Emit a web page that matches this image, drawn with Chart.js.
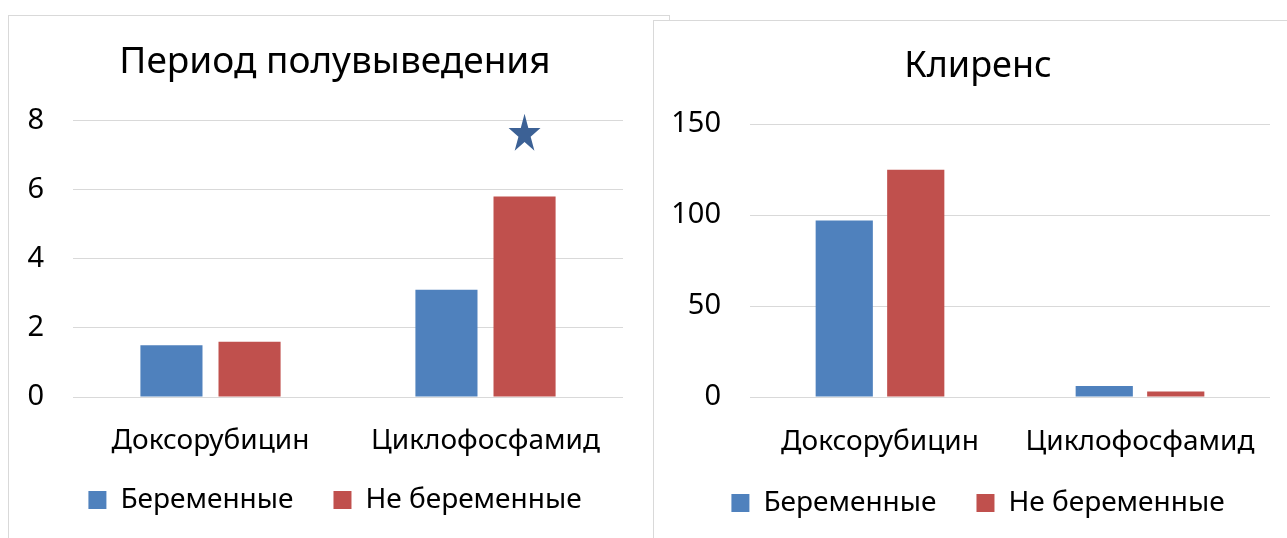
<!DOCTYPE html>
<html>
<head>
<meta charset="utf-8">
<script src="https://cdn.jsdelivr.net/npm/chart.js@4/dist/chart.umd.min.js"></script>
<style>
  body { margin: 0; background: #fff; width: 1287px; height: 538px; overflow: hidden; position: relative; }
  .panel { position: absolute; border: 1px solid #d9d9d9; background: #fff; }
  #panel-halflife { left: 8px; top: 15px; width: 660px; height: 560px; }
  #panel-clearance { left: 653px; top: 20px; width: 660px; height: 560px; z-index: 2; }
  canvas { display: block; }
</style>
</head>
<body>
<div class="panel" id="panel-halflife"><canvas id="halflife-chart" width="637" height="522"></canvas></div>
<div class="panel" id="panel-clearance"><canvas id="clearance-chart" width="640" height="517"></canvas></div>
<script>
var categories = ['Доксорубицин', 'Циклофосфамид'];
var seriesLabels = ['Беременные', 'Не беременные'];
var seriesColors = ['#4f81bd', '#c0504d'];

var halfLifePregnant = [1.5, 3.1];
var halfLifeNonPregnant = [1.6, 5.8];
var halfLifeTicks = [0, 2, 4, 6, 8];
// significance star, drawn above the "Не беременные" bar of each group
var halfLifeStars = [null, 7.6];

var clearancePregnant = [97, 6];
var clearanceNonPregnant = [125, 3];
var clearanceTicks = [0, 50, 100, 150];

Chart.defaults.font.family = '"Noto Sans", sans-serif';
Chart.defaults.color = '#000';

function drawStar(ctx, cx, cy, rx, ry, color) {
  ctx.save();
  ctx.beginPath();
  for (var k = 0; k < 10; k++) {
    var a = -Math.PI / 2 + k * Math.PI / 5;
    var r = k % 2 === 0 ? 1 : 0.382;
    var px = cx + Math.cos(a) * rx * r;
    var py = cy + Math.sin(a) * ry * r;
    if (k === 0) ctx.moveTo(px, py); else ctx.lineTo(px, py);
  }
  ctx.closePath();
  ctx.fillStyle = color;
  ctx.fill();
  ctx.restore();
}

var starPlugin = {
  id: 'starMarks',
  afterDatasetsDraw: function(chart, args, opts) {
    if (!opts.values) return;
    var meta = chart.getDatasetMeta(opts.datasetIndex);
    var yScale = chart.scales.y;
    opts.values.forEach(function(v, i) {
      if (v == null) return;
      drawStar(chart.ctx, meta.data[i].x, yScale.getPixelForValue(v), opts.rx, opts.ry, opts.color);
    });
  }
};

// axis boxes are sized by hand below, so let the tick labels spill out of them
function noLabelClip(scale) {
  scale._computeLabelArea = function() { return undefined; };
}

function makeChart(canvasId, cfg) {
  var ctx = document.getElementById(canvasId).getContext('2d');
  return new Chart(ctx, {
    type: 'bar',
    data: {
      labels: categories,
      datasets: [{
        label: seriesLabels[0],
        data: cfg.pregnant,
        backgroundColor: seriesColors[0],
        borderWidth: 0,
        barPercentage: cfg.barPct,
        categoryPercentage: cfg.catPct
      }, {
        label: seriesLabels[1],
        data: cfg.nonPregnant,
        backgroundColor: seriesColors[1],
        borderWidth: 0,
        barPercentage: cfg.barPct,
        categoryPercentage: cfg.catPct
      }]
    },
    plugins: [starPlugin],
    options: {
      responsive: false,
      devicePixelRatio: 1,
      animation: false,
      layout: { padding: { left: cfg.padLeft, right: cfg.padRight, top: 0, bottom: cfg.padBottom } },
      plugins: {
        title: {
          display: true,
          text: cfg.title,
          font: { size: cfg.titleSize, weight: 'normal', lineHeight: 1.2 },
          color: '#000',
          padding: { top: cfg.titleTop, bottom: cfg.titleBottom }
        },
        legend: {
          position: 'bottom',
          labels: {
            boxWidth: 18,
            boxHeight: 18,
            padding: 40,
            font: { size: 28 },
            color: '#000'
          }
        },
        tooltip: { enabled: false },
        starMarks: cfg.stars || {}
      },
      scales: {
        x: {
          grid: { display: false },
          border: { display: false },
          ticks: { font: { size: 28 }, padding: cfg.xPad, color: '#000', maxRotation: 0 },
          afterFit: function(scale) {
            scale.height = cfg.xHeight;
            noLabelClip(scale);
          }
        },
        y: {
          min: cfg.ticks[0],
          max: cfg.ticks[cfg.ticks.length - 1],
          grid: { color: '#d9d9d9', lineWidth: 1, drawTicks: false },
          border: { display: false },
          ticks: { font: { size: 29 }, padding: 29, color: '#000' },
          afterBuildTicks: function(scale) {
            scale.ticks = cfg.ticks.map(function(v) { return { value: v }; });
          },
          afterFit: function(scale) {
            scale.width = cfg.yWidth;
            noLabelClip(scale);
          }
        }
      }
    }
  });
}

makeChart('halflife-chart', {
  title: 'Период полувыведения',
  titleSize: 37,
  pregnant: halfLifePregnant,
  nonPregnant: halfLifeNonPregnant,
  ticks: halfLifeTicks,
  barPct: 0.795,
  catPct: 0.568,
  padLeft: 38,
  padRight: 23,
  padBottom: 14,
  yWidth: 26,
  titleTop: 24,
  titleBottom: 36,
  xPad: 19,
  xHeight: 49,
  stars: { values: halfLifeStars, datasetIndex: 1, rx: 16.8, ry: 20.5, color: '#3c6195' }
});

makeChart('clearance-chart', {
  title: 'Клиренс',
  titleSize: 36,
  pregnant: clearancePregnant,
  nonPregnant: clearanceNonPregnant,
  ticks: clearanceTicks,
  barPct: 0.8,
  catPct: 0.55,
  padLeft: 32,
  padRight: 24,
  padBottom: 11,
  yWidth: 64,
  titleTop: 24,
  titleBottom: 36,
  xPad: 20,
  xHeight: 52
});
</script>
</body>
</html>
